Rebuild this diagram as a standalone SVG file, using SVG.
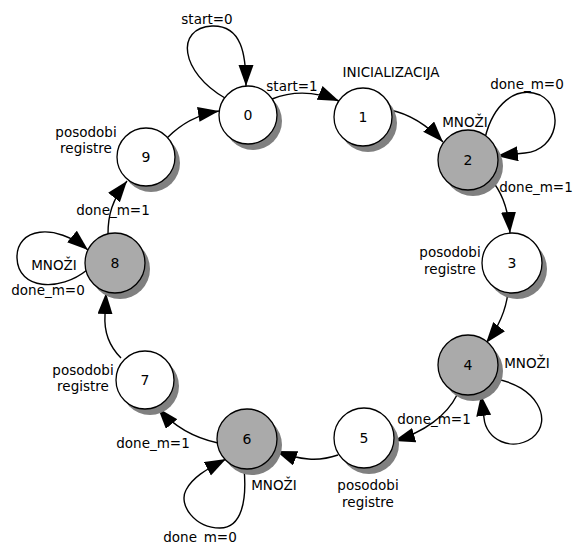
<svg xmlns="http://www.w3.org/2000/svg" width="573" height="544" viewBox="0 0 573 544">
<style>
text{font-family:"DejaVu Sans","Liberation Sans",sans-serif;font-size:13.5px;fill:#000;text-anchor:middle}
.sh{fill:#808080}
.n{fill:#fff;stroke:#000;stroke-width:1.3}
.g{fill:#aaaaaa}
.e{fill:none;stroke:#000;stroke-width:1.4;marker-end:url(#ah)}
.num{font-size:14px}
</style>
<defs>
<marker id="ah" markerUnits="userSpaceOnUse" markerWidth="22" markerHeight="16" refX="21" refY="7.5" orient="auto">
<path d="M0,0 L21,7.5 L0,15 z" fill="#000"/>
</marker>
</defs>
<rect width="573" height="544" fill="#fff"/>
<g id="connectors">
<path class="e" d="M225,98 C180,72 175,28 212,26 C242,25 246,55 246,86"/>
<path class="e" d="M272,99 C292,91 315,91 339,101"/>
<path class="e" d="M390,110 C410,114 428,126 443,142"/>
<path class="e" d="M485,138 C493,105 515,85 540,95 C565,108 558,150 525,153 L497,156"/>
<path class="e" d="M490,178 C500,190 508,205 510,233"/>
<path class="e" d="M508,292 C506,310 498,328 486,343"/>
<path class="e" d="M495,379 C535,385 555,420 532,438 C512,452 486,440 484,418 L481,395"/>
<path class="e" d="M457,395 C447,415 425,432 394,441"/>
<path class="e" d="M338,455 C318,462 300,460 276,451"/>
<path class="e" d="M244,468 C247,500 242,528 220,528 C195,528 178,505 186,490 C192,478 205,470 226,459"/>
<path class="e" d="M218,443 C195,438 175,428 158,408"/>
<path class="e" d="M121,358 C108,345 104,330 105,315 L106,293"/>
<path class="e" d="M87,270 C60,292 18,290 17,258 C16,228 55,222 88,250"/>
<path class="e" d="M108,234 C108,215 112,200 127,181"/>
<path class="e" d="M167,138 C180,125 195,115 219,111"/>
</g>
<g id="n0"><circle class="sh" cx="253" cy="121" r="29"/><circle class="n" cx="248" cy="115" r="29"/><text class="num" x="248" y="120">0</text></g>
<g id="n1"><circle class="sh" cx="368" cy="123" r="29"/><circle class="n" cx="363" cy="117" r="29"/><text class="num" x="363" y="122">1</text></g>
<g id="n2"><circle class="sh" cx="473" cy="166" r="30"/><circle class="n g" cx="468" cy="160" r="30"/><text class="num" x="468" y="165">2</text></g>
<g id="n3"><circle class="sh" cx="517" cy="269" r="30"/><circle class="n" cx="512" cy="263" r="30"/><text class="num" x="512" y="268">3</text></g>
<g id="n4"><circle class="sh" cx="473" cy="371" r="30"/><circle class="n g" cx="468" cy="365" r="30"/><text class="num" x="468" y="370">4</text></g>
<g id="n5"><circle class="sh" cx="369" cy="444" r="30"/><circle class="n" cx="364" cy="438" r="30"/><text class="num" x="364" y="443">5</text></g>
<g id="n6"><circle class="sh" cx="252" cy="445" r="30"/><circle class="n g" cx="247" cy="439" r="30"/><text class="num" x="247" y="444">6</text></g>
<g id="n7"><circle class="sh" cx="150" cy="386" r="29"/><circle class="n" cx="145" cy="380" r="29"/><text class="num" x="145" y="385">7</text></g>
<g id="n8"><circle class="sh" cx="120" cy="269" r="30"/><circle class="n g" cx="115" cy="263" r="30"/><text class="num" x="115" y="268">8</text></g>
<g id="n9"><circle class="sh" cx="151" cy="163" r="29"/><circle class="n" cx="146" cy="157" r="29"/><text class="num" x="146" y="162">9</text></g>
<g id="labels">
<text x="207" y="24">start=0</text>
<text x="292" y="91">start=1</text>
<text x="391" y="77">INICIALIZACIJA</text>
<text x="527" y="89">done_m=0</text>
<text x="465" y="127">MNOŽI</text>
<text x="536" y="192">done_m=1</text>
<text x="450" y="257">posodobi</text>
<text x="450" y="274">registre</text>
<text x="527" y="368">MNOŽI</text>
<text x="434" y="424">done_m=1</text>
<text x="368" y="490">posodobi</text>
<text x="368" y="507">registre</text>
<text x="274" y="490">MNOŽI</text>
<text x="200" y="542">done_m=0</text>
<text x="153" y="448">done_m=1</text>
<text x="83" y="375">posodobi</text>
<text x="83" y="391">registre</text>
<text x="113" y="215">done_m=1</text>
<text x="54" y="270">MNOŽI</text>
<text x="48" y="295">done_m=0</text>
<text x="86" y="137">posodobi</text>
<text x="86" y="153">registre</text>
</g>
</svg>
